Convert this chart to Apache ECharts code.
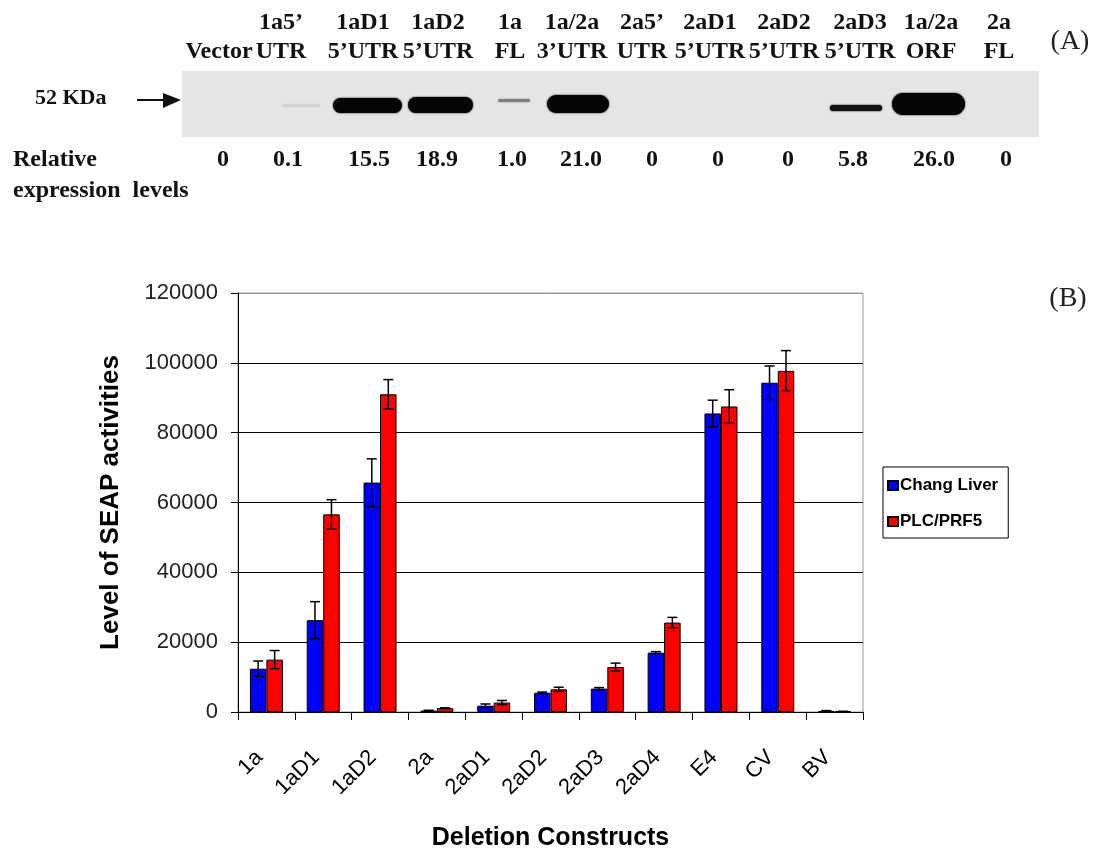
<!DOCTYPE html>
<html>
<head>
<meta charset="utf-8">
<script src="https://cdn.jsdelivr.net/npm/echarts@6/dist/echarts.min.js"></script>
<style>
html,body{margin:0;padding:0;background:#fff;}
#chart{width:1099px;height:850px;}
</style>
</head>
<body>
<div id="chart"></div>
<script>
// ---------- Panel A data (Western blot) ----------
const laneTop = ["", "1a5\u2019", "1aD1", "1aD2", "1a", "1a/2a", "2a5\u2019", "2aD1", "2aD2", "2aD3", "1a/2a", "2a"];
const laneBottom = ["Vector", "UTR", "5\u2019UTR", "5\u2019UTR", "FL", "3\u2019UTR", "UTR", "5\u2019UTR", "5\u2019UTR", "5\u2019UTR", "ORF", "FL"];
const relExpression = ["0", "0.1", "15.5", "18.9", "1.0", "21.0", "0", "0", "0", "5.8", "26.0", "0"];

// ---------- Panel B data (SEAP activity) ----------
const constructs = ["1a", "1aD1", "1aD2", "2a", "2aD1", "2aD2", "2aD3", "2aD4", "E4", "CV", "BV"];
const changLiver = [12400, 26300, 65700, 400, 1800, 5500, 6700, 17000, 85500, 94300, 300];
const changLiverErr = [2200, 5300, 6800, 100, 500, 200, 300, 300, 3800, 4800, 100];
const plcPrf5 = [15000, 56600, 91000, 1100, 2700, 6500, 12900, 25600, 87500, 97700, 150];
const plcPrf5Err = [2600, 4200, 4200, 100, 600, 600, 1100, 1500, 4800, 5800, 0];
const yTicks = [0, 20000, 40000, 60000, 80000, 100000, 120000];

// ---------- Layout (positions / styles, not data) ----------
const labelCenters = [219, 281, 363, 438, 510, 572, 642, 710, 784, 860, 931, 999];
const numberCenters = [223, 288, 369, 437, 512, 581, 652, 718, 788, 853, 934, 1006];
// band shapes per lane: [x0, x1, y0, y1, color] (null = no visible band)
const bandShapes = [
  null,
  [282, 320, 104, 107, '#d2d2d2'],
  [333, 402, 98, 113, '#050505'],
  [408, 473, 97, 113, '#050505'],
  [498, 530, 99, 102, '#808080'],
  [547, 609, 95, 113, '#050505'],
  null, null, null,
  [830, 882, 105, 111, '#111111'],
  [892, 965, 93, 115, '#050505'],
  null
];

const serifBold = 'bold 24px "Liberation Serif", "DejaVu Serif", serif';
const graphics = [];
// blot background
graphics.push({type:'rect', shape:{x:182, y:71, width:857, height:66}, style:{fill:'#e5e5e5'}, z:1});
bandShapes.forEach(function(b){
  if(!b) return;
  const h = b[3]-b[2];
  graphics.push({type:'rect', shape:{x:b[0], y:b[2], width:b[1]-b[0], height:h, r:h/2},
    style:{fill:b[4], shadowBlur:2, shadowColor:b[4]}, z:2});
});
// lane labels
laneTop.forEach(function(t,i){
  if(t) graphics.push({type:'text', style:{text:t, x:labelCenters[i], y:23, align:'center', verticalAlign:'middle', font:serifBold, fill:'#111'}, z:3});
  graphics.push({type:'text', style:{text:laneBottom[i], x:labelCenters[i], y:52, align:'center', verticalAlign:'middle', font:serifBold, fill:'#111'}, z:3});
  graphics.push({type:'text', style:{text:relExpression[i], x:numberCenters[i], y:160, align:'center', verticalAlign:'middle', font:serifBold, fill:'#111'}, z:3});
});
graphics.push({type:'text', style:{text:'Relative', x:13, y:160, align:'left', verticalAlign:'middle', font:serifBold, fill:'#111'}, z:3});
graphics.push({type:'text', style:{text:'expression  levels', x:13, y:191, align:'left', verticalAlign:'middle', font:serifBold, fill:'#111'}, z:3});
graphics.push({type:'text', style:{text:'52 KDa', x:35, y:98, align:'left', verticalAlign:'middle', font:'bold 22px "Liberation Serif", serif', fill:'#111'}, z:3});
graphics.push({type:'line', shape:{x1:137, y1:100, x2:166, y2:100}, style:{stroke:'#111', lineWidth:2}, z:3});
graphics.push({type:'polygon', shape:{points:[[163,93],[181,100],[163,108]]}, style:{fill:'#111'}, z:3});
graphics.push({type:'text', style:{text:'(A)', x:1070, y:42, align:'center', verticalAlign:'middle', font:'28px "Liberation Serif", serif', fill:'#222'}, z:3});
graphics.push({type:'text', style:{text:'(B)', x:1068, y:299, align:'center', verticalAlign:'middle', font:'28px "Liberation Serif", serif', fill:'#222'}, z:3});

const BAR_W = 16.5;
function errData(vals, errs){
  return vals.map(function(v,i){ return [i, v - errs[i], v + errs[i]]; });
}
function errRenderer(offset){
  return function(params, api){
    const i = api.value(0);
    const lo = api.coord([i, api.value(1)]);
    const hi = api.coord([i, api.value(2)]);
    const x = lo[0] + offset;
    const cap = 5;
    const st = {stroke:'#000', lineWidth:1.5};
    return {type:'group', children:[
      {type:'line', shape:{x1:x, y1:lo[1], x2:x, y2:hi[1]}, style:st},
      {type:'line', shape:{x1:x-cap, y1:hi[1], x2:x+cap, y2:hi[1]}, style:st},
      {type:'line', shape:{x1:x-cap, y1:lo[1], x2:x+cap, y2:lo[1]}, style:st}
    ]};
  };
}

const chart = echarts.init(document.getElementById('chart'), null, {renderer:'canvas'});
const sans = '"Liberation Sans", Arial, sans-serif';
chart.setOption({
  animation:false,
  backgroundColor:'#fff',
  graphic: graphics,
  grid:{left:238, top:293, right:236, bottom:138, show:true, borderColor:'#999', borderWidth:1, containLabel:false, outerBoundsMode:'none'},
  legend:{
    data:['Chang Liver','PLC/PRF5'],
    orient:'vertical', left:883, top:467,
    padding:[10,10,8,4],
    itemWidth:10, itemHeight:9, itemGap:19,
    borderColor:'#000', borderWidth:1,
    icon:'rect',
    textStyle:{fontFamily:sans, fontWeight:'bold', fontSize:17, color:'#000', padding:[0,0,0,-3]}
  },
  xAxis:{
    type:'category', data:constructs,
    axisLine:{lineStyle:{color:'#000', width:1}},
    axisTick:{show:true, length:8, lineStyle:{color:'#000'}},
    axisLabel:{rotate:45, margin:35, padding:[0,10,0,0], fontFamily:sans, fontSize:22, color:'#000', interval:0},
    name:'Deletion Constructs', nameLocation:'middle', nameGap:114,
    nameTextStyle:{fontFamily:sans, fontWeight:'bold', fontSize:25, color:'#000'},
    splitLine:{show:false}
  },
  yAxis:{
    type:'value', min:0, max:120000, interval:20000,
    axisLine:{show:true, lineStyle:{color:'#000', width:1}},
    axisTick:{show:true, length:7, lineStyle:{color:'#000'}},
    axisLabel:{margin:20, fontFamily:sans, fontSize:22, color:'#222',
      formatter:function(v){ return yTicks.indexOf(v) >= 0 ? String(v) : ''; }},
    splitLine:{show:true, lineStyle:{color:['#000','#000','#000','#000','#000','#000','#999'], width:1.2}},
    name:'Level of SEAP activities', nameLocation:'middle', nameGap:114,
    nameTextStyle:{fontFamily:sans, fontWeight:'bold', fontSize:26, color:'#000'}
  },
  series:[
    {name:'Chang Liver', type:'bar', data:changLiver, barWidth:BAR_W, barGap:'0%',
      itemStyle:{color:'#0000ff', borderColor:'#000', borderWidth:1}, z:2},
    {name:'PLC/PRF5', type:'bar', data:plcPrf5, barWidth:BAR_W, barGap:'0%',
      itemStyle:{color:'#ff0000', borderColor:'#000', borderWidth:1}, z:2},
    {name:'errChang', type:'custom', data:errData(changLiver, changLiverErr),
      encode:{x:0, y:[1,2]}, renderItem:errRenderer(-BAR_W/2), z:5, silent:true},
    {name:'errPLC', type:'custom', data:errData(plcPrf5, plcPrf5Err),
      encode:{x:0, y:[1,2]}, renderItem:errRenderer(BAR_W/2), z:5, silent:true}
  ]
});
</script>
</body>
</html>
